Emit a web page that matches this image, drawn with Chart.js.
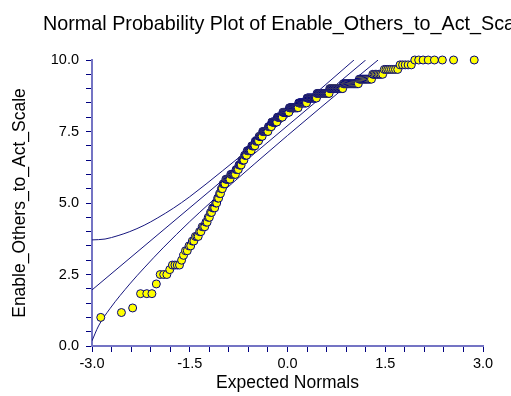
<!DOCTYPE html>
<html><head><meta charset="utf-8">
<script src="https://cdn.jsdelivr.net/npm/chart.js@4.4.0/dist/chart.umd.min.js"></script>
<style>html,body{margin:0;padding:0;background:#fff;}#wrap{width:511px;height:396px;position:relative;}</style>
</head><body><div id="wrap"><canvas id="c" width="511" height="396"></canvas></div>
<script>
// Observed scale values (sorted levels) and how many respondents sit at each level
const levels = [1.00,1.17,1.33,1.83,2.17,2.50,2.67,2.83,
  3.00,3.17,3.33,3.50,3.67,3.83,4.00,4.17,4.33,4.50,4.67,4.83,
  5.00,5.17,5.33,5.50,5.67,
  5.83,6.00,6.17,6.33,6.50,6.67,6.83,
  7.00,7.17,7.33,7.50,7.67,7.83,8.00,
  8.17,8.33,8.50,8.67,8.83,
  9.00,9.17,9.33,9.50,9.67,9.83,10.00];
const counts = [1,1,1,3,1,3,1,4,
  1,1,2,2,2,3,2,3,2,2,2,3,
  2,2,2,2,3,
  6,7,4,4,4,4,7,
  6,6,6,10,6,10,10,
  12,17,15,17,20,
  19,18,12,8,8,5,8];

// Reference line
const refX = [-3.0, 1.20];
const refY = [1.96, 10.0];
// Upper confidence band
const upperX = [-3.0,-2.8,-2.6,-2.42,-2.2,-2.0,-1.75,-1.5,-1.0,-0.5,0.0,0.5,1.02];
const upperY = [3.71,3.74,3.86,4.00,4.22,4.47,4.82,5.22,6.12,7.05,8.0,8.97,10.0];
// Lower confidence band
const lowerX = [-3.0,-2.9,-2.72,-2.42,-2.2,-1.91,-1.5,-1.19,-0.5,0.0,0.5,1.0,1.39];
const lowerY = [0.18,0.70,1.32,2.17,2.73,3.43,4.35,5.00,6.38,7.36,8.32,9.27,10.0];

const xTickLabels = ['-3.0','-1.5','0.0','1.5','3.0'];
const yTickLabels = ['0.0','2.5','5.0','7.5','10.0'];

const titleText = 'Normal Probability Plot of Enable_Others_to_Act_Scale';
const xTitle = 'Expected Normals';
const yTitle = 'Enable_Others_to_Act_Scale';

// inverse standard normal CDF (Acklam)
function invNorm(p){
  const a=[-3.969683028665376e+01,2.209460984245205e+02,-2.759285104469687e+02,1.383577518672690e+02,-3.066479806614716e+01,2.506628277459239e+00];
  const b=[-5.447609879822406e+01,1.615858368580409e+02,-1.556989798598866e+02,6.680131188771972e+01,-1.328068155288572e+01];
  const c=[-7.784894002430293e-03,-3.223964580411365e-01,-2.400758277161838e+00,-2.549732539343734e+00,4.374664141464968e+00,2.938163982698783e+00];
  const d=[7.784695709041462e-03,3.224671290700398e-01,2.445134137142996e+00,3.754408661907416e+00];
  const pl=0.02425, ph=1-pl; let q,r;
  if(p<pl){q=Math.sqrt(-2*Math.log(p));return (((((c[0]*q+c[1])*q+c[2])*q+c[3])*q+c[4])*q+c[5])/((((d[0]*q+d[1])*q+d[2])*q+d[3])*q+1);}
  if(p<=ph){q=p-0.5;r=q*q;return (((((a[0]*r+a[1])*r+a[2])*r+a[3])*r+a[4])*r+a[5])*q/(((((b[0]*r+b[1])*r+b[2])*r+b[3])*r+b[4])*r+1);}
  q=Math.sqrt(-2*Math.log(1-p));return -(((((c[0]*q+c[1])*q+c[2])*q+c[3])*q+c[4])*q+c[5])/((((d[0]*q+d[1])*q+d[2])*q+d[3])*q+1);
}

const sorted = [];
levels.forEach((v,i)=>{ for(let k=0;k<counts[i];k++) sorted.push(v); });
const n = sorted.length;
const pts = sorted.map((v,i)=>({x: invNorm((i+1-0.375)/(n+0.25)), y: v}));

const zip = (xs,ys)=>xs.map((x,i)=>({x:x,y:ys[i]}));
const lineColor = '#16167e';
const FONT = "'Liberation Sans', Arial, sans-serif";

const titlePlugin = {
  id:'leftTitle',
  afterDraw(chart){
    const ctx = chart.ctx;
    ctx.save();
    ctx.font = '19.75px ' + FONT;
    ctx.fillStyle = '#000';
    ctx.textBaseline = 'alphabetic';
    ctx.textAlign = 'left';
    ctx.fillText(titleText, 43, 30);
    ctx.restore();
  }
};

function near(v, step){ const r = v/step; return Math.abs(r - Math.round(r)) < 1e-6; }

new Chart(document.getElementById('c'), {
  type: 'scatter',
  data: {
    datasets: [
      { data: pts, order: 0, clip: false, pointRadius: 4, pointHoverRadius: 4,
        pointBackgroundColor: '#ffff00', pointBorderColor: '#000080', pointBorderWidth: 1, showLine: false },
      { data: zip(upperX, upperY), order: 1, showLine: true, pointRadius: 0, borderColor: lineColor, borderWidth: 1, cubicInterpolationMode: 'monotone' },
      { data: zip(refX, refY), order: 1, showLine: true, pointRadius: 0, borderColor: lineColor, borderWidth: 1 },
      { data: zip(lowerX, lowerY), order: 1, showLine: true, pointRadius: 0, borderColor: lineColor, borderWidth: 1, cubicInterpolationMode: 'monotone' }
    ]
  },
  options: {
    responsive: false, animation: false, devicePixelRatio: 1,
    layout: { padding: { top: 60, right: 28, left: 0, bottom: 0 } },
    plugins: { legend: { display: false }, tooltip: { enabled: false }, title: { display: false } },
    events: [],
    scales: {
      x: {
        type: 'linear', min: -3, max: 3,
        afterFit: s => { s.height = 50; },
        border: { display: true, color: '#7474c4', width: 2 },
        grid: { display: true, drawOnChartArea: false, drawTicks: true, tickLength: 6, tickColor: '#000080', tickWidth: 1 },
        ticks: { stepSize: 0.3, autoSkip: false, maxRotation: 0, padding: 3, color: '#000',
          font: { family: FONT, size: 14.5 },
          callback: v => near(v, 1.5) ? xTickLabels[Math.round(v/1.5) + 2] : '' },
        title: { display: true, text: xTitle, color: '#000', font: { family: FONT, size: 17.5 }, padding: { top: 0, bottom: 2.5 } }
      },
      y: {
        type: 'linear', min: 0, max: 10,
        afterFit: s => { s.width = 92; },
        border: { display: true, color: '#7474c4', width: 2 },
        grid: { display: true, drawOnChartArea: false, drawTicks: true, tickLength: 6, tickColor: '#000080', tickWidth: 1 },
        ticks: { stepSize: 0.5, autoSkip: false, padding: 7, color: '#000',
          font: { family: FONT, size: 14.5 },
          callback: v => near(v, 2.5) ? yTickLabels[Math.round(v/2.5)] : '' },
        title: { display: true, text: yTitle, color: '#000', font: { family: FONT, size: 17.5 }, padding: { top: 9.5, bottom: 0 } }
      }
    }
  },
  plugins: [titlePlugin]
});
</script>
</body></html>
